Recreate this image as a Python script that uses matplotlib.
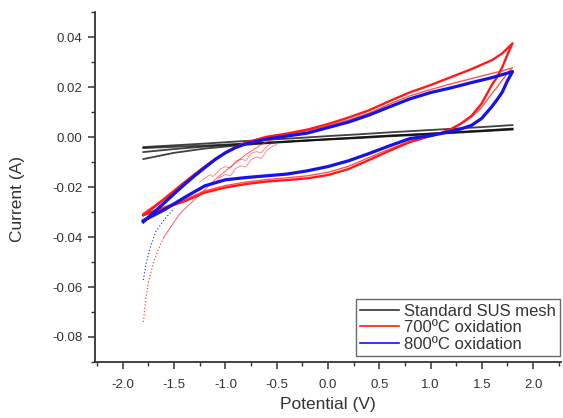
import matplotlib
matplotlib.use("Agg")
import matplotlib.pyplot as plt
from matplotlib.ticker import MultipleLocator, FormatStrFormatter

plt.rcParams['font.family'] = ['Liberation Sans', 'DejaVu Sans']

# potential grids (V)
v_fwd = [-1.8, -1.7, -1.6, -1.5, -1.4, -1.3, -1.2, -1.1, -1.0, -0.9, -0.8, -0.6, -0.4,
         -0.2, 0.0, 0.2, 0.4, 0.6, 0.8, 1.0, 1.2, 1.4, 1.6, 1.7, 1.8]
v_rev = [1.8, 1.75, 1.7, 1.65, 1.6, 1.5, 1.4, 1.3, 1.2, 1.1, 1.0, 0.8, 0.6, 0.4, 0.2,
         0.0, -0.2, -0.4, -0.6, -0.8, -1.0, -1.2, -1.4, -1.6, -1.8]
v_blk = [-1.8, -1.5, -1.2, -0.9, -0.6, -0.3, 0.0, 0.3, 0.6, 0.9, 1.2, 1.5, 1.8]

# standard SUS mesh, current (A)
blk_a = [-0.0040, -0.0033, -0.0026, -0.0018, -0.0011, -0.0004, 0.0004, 0.0011, 0.0019, 0.0026, 0.0033, 0.0040, 0.0048]
blk_b = [-0.0044, -0.0039, -0.0034, -0.0028, -0.0022, -0.0016, -0.0010, -0.0004, 0.0003, 0.0009, 0.0016, 0.0023, 0.0030]
blk_c = [-0.0060, -0.0048, -0.0038, -0.0030, -0.0023, -0.0015, -0.0008, -0.0001, 0.0006, 0.0012, 0.0019, 0.0026, 0.0034]
blk_d = [-0.0088, -0.0063, -0.0046, -0.0034, -0.0025, -0.0017, -0.0009, -0.0002, 0.0005, 0.0011, 0.0018, 0.0025, 0.0032]

# 700 C oxidation, two cycles
red1_fwd = [-0.0312, -0.0282, -0.0250, -0.0216, -0.0182, -0.0150, -0.0118, -0.0088, -0.0062, -0.0040,
            -0.0022, 0.0001, 0.0014, 0.0030, 0.0052, 0.0078, 0.0107, 0.0144, 0.0179, 0.0208,
            0.0240, 0.0272, 0.0308, 0.0335, 0.0375]
red1_rev = [0.0375, 0.0330, 0.0280, 0.0240, 0.0210, 0.0135, 0.0085, 0.0055, 0.0032, 0.0016,
            0.0004, -0.0020, -0.0055, -0.0092, -0.0128, -0.0152, -0.0165, -0.0172, -0.0178, -0.0188,
            -0.0202, -0.0222, -0.0257, -0.0285, -0.0312]
red2_fwd = [-0.0305, -0.0276, -0.0245, -0.0212, -0.0179, -0.0147, -0.0116, -0.0087, -0.0061, -0.0040,
            -0.0023, -0.0001, 0.0011, 0.0025, 0.0045, 0.0068, 0.0096, 0.0132, 0.0165, 0.0190,
            0.0213, 0.0234, 0.0255, 0.0265, 0.0277]
red2_rev = [0.0277, 0.0255, 0.0228, 0.0200, 0.0175, 0.0120, 0.0080, 0.0052, 0.0031, 0.0016,
            0.0005, -0.0016, -0.0048, -0.0082, -0.0117, -0.0141, -0.0155, -0.0163, -0.0170, -0.0180,
            -0.0194, -0.0215, -0.0250, -0.0280, -0.0308]
# first scan of 700 C sample
red0_v = [-1.8, -1.78, -1.75, -1.7, -1.65, -1.6, -1.5, -1.44, -1.3, -1.2, -1.1, -0.95, -0.8, -0.65, -0.55, -0.4, -0.3]
red0_i = [-0.074, -0.066, -0.058, -0.050, -0.0445, -0.040, -0.034, -0.0305, -0.0250, -0.0210, -0.0170,
          -0.0119, -0.0070, -0.0030, -0.0011, 0.0002, 0.0010]
# noisy segments
redn_v = [-1.25, -1.2, -1.15, -1.12, -1.05, -1.0, -0.95, -0.9, -0.85, -0.8, -0.75, -0.7, -0.65, -0.6, -0.55, -0.5]
redn_i = [-0.0215, -0.0195, -0.0185, -0.0192, -0.0160, -0.0150, -0.0155, -0.0125, -0.0115, -0.0120,
          -0.0090, -0.0080, -0.0085, -0.0055, -0.0040, -0.0030]
redm_i = [-0.0180, -0.0165, -0.0150, -0.0158, -0.0128, -0.0118, -0.0124, -0.0096, -0.0088, -0.0094,
          -0.0066, -0.0058, -0.0064, -0.0038, -0.0026, -0.0018]

# 800 C oxidation
blue_fwd = [-0.0339, -0.0302, -0.0265, -0.0227, -0.0190, -0.0155, -0.0122, -0.0090, -0.0063, -0.0042,
            -0.0027, -0.0008, 0.0004, 0.0016, 0.0038, 0.0060, 0.0088, 0.0121, 0.0153, 0.0178,
            0.0197, 0.0218, 0.0238, 0.0250, 0.0262]
blue_rev = [0.0262, 0.0225, 0.0180, 0.0150, 0.0123, 0.0075, 0.0047, 0.0033, 0.0023, 0.0014,
            0.0006, -0.0006, -0.0035, -0.0066, -0.0095, -0.0118, -0.0135, -0.0148, -0.0155, -0.0162,
            -0.0171, -0.0195, -0.0242, -0.0292, -0.0334]
blue0_v = [-1.8, -1.77, -1.73, -1.68, -1.6, -1.5]
blue0_i = [-0.0572, -0.0500, -0.0439, -0.0380, -0.0332, -0.0285]

RED = '#ff1a1a'
BLUE = '#1414e6'

fig = plt.figure(figsize=(5.63, 4.18), dpi=100)
ax = fig.add_axes([0.169, 0.134, 0.827, 0.837])

for trace in (blk_a, blk_b, blk_c, blk_d):
    ax.plot(v_blk, trace, color='#111111', lw=1.3, alpha=0.8)

ax.plot(red0_v[:6], red0_i[:6], color=RED, lw=0.9, ls=':', alpha=0.8)
ax.plot(red0_v[5:], red0_i[5:], color=RED, lw=0.7, alpha=0.7)
ax.plot(redn_v, redn_i, color=RED, lw=0.6, alpha=0.6)
ax.plot(redn_v, redm_i, color=RED, lw=0.6, alpha=0.6)
ax.plot(v_fwd + v_rev, red2_fwd + red2_rev, color=RED, lw=1.0, alpha=0.75)
ax.plot(v_fwd + v_rev, red1_fwd + red1_rev, color=RED, lw=1.7)

ax.plot(blue0_v, blue0_i, color=BLUE, lw=0.9, ls=':', alpha=0.8)
ax.plot(v_fwd + v_rev, blue_fwd + blue_rev, color=BLUE, lw=2.3)

# legend proxies
ax.plot([], [], color='#333333', lw=1.2, label='Standard SUS mesh')
ax.plot([], [], color=RED, lw=1.2, label='700ºC oxidation')
ax.plot([], [], color=BLUE, lw=1.2, label='800ºC oxidation')
leg = ax.legend(loc='lower right', bbox_to_anchor=(0.998, 0.017), borderaxespad=0,
                fontsize=12, frameon=True, fancybox=False, handlelength=2.3,
                handletextpad=0.3, borderpad=0.25, labelspacing=0.1)
leg.get_frame().set_edgecolor('#444444')
leg.get_frame().set_linewidth(1.0)
for t in leg.get_texts():
    t.set_color('#333333')

ax.set_xlim(-2.27, 2.27)
ax.set_ylim(-0.09, 0.05)
ax.xaxis.set_major_locator(MultipleLocator(0.5))
ax.xaxis.set_minor_locator(MultipleLocator(0.25))
ax.yaxis.set_major_locator(MultipleLocator(0.02))
ax.yaxis.set_minor_locator(MultipleLocator(0.01))
ax.xaxis.set_major_formatter(FormatStrFormatter('%.1f'))
ax.yaxis.set_major_formatter(FormatStrFormatter('%.2f'))

for side in ('top', 'right'):
    ax.spines[side].set_visible(False)
for side in ('left', 'bottom'):
    ax.spines[side].set_color('#333333')
    ax.spines[side].set_linewidth(1.3)
ax.tick_params(which='major', direction='out', length=5, width=1.1, color='#333333',
               labelsize=9.5, labelcolor='#333333')
ax.tick_params(axis='x', which='major', pad=7)
ax.tick_params(axis='y', which='major', pad=4)
ax.tick_params(which='minor', direction='out', length=3, width=1.0, color='#333333')

ax.set_xlabel('Potential (V)', fontsize=12.5, color='#333333')
ax.set_ylabel('Current (A)', fontsize=12.5, color='#333333')
ax.xaxis.set_label_coords(0.5, -0.1)
ax.yaxis.set_label_coords(-0.15, 0.465)

fig.savefig('out.png', dpi=100)
